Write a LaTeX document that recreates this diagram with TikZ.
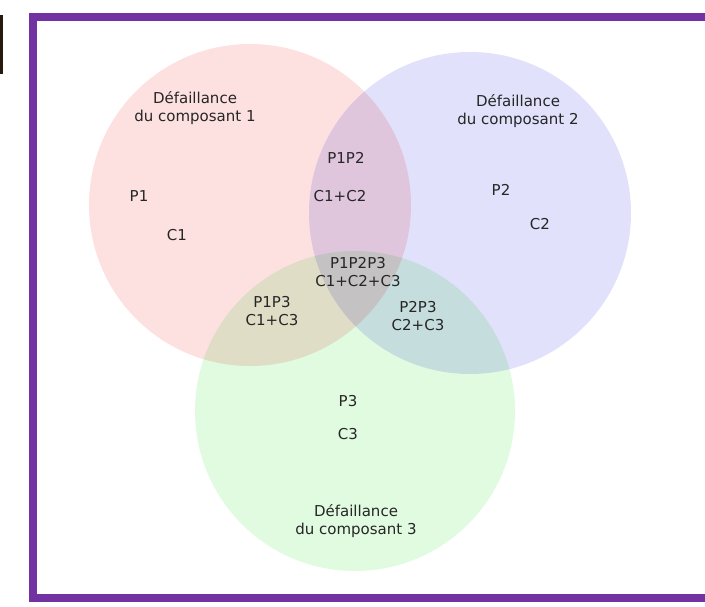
\documentclass[tikz,border=0pt]{standalone}
\usepackage{fontspec}
\setmainfont{DejaVu Sans}
\definecolor{framepurple}{HTML}{7232A2}
\definecolor{cred}{HTML}{FDE1E1}
\definecolor{cblue}{HTML}{E1E1FB}
\definecolor{cgreen}{HTML}{E1FBE1}
\definecolor{txt}{HTML}{262626}
\begin{document}
\begin{tikzpicture}[x=1pt,y=-1pt,
  lbl/.style={text=txt,font=\fontsize{15}{17.5}\selectfont,align=center,inner sep=0pt},
  venn/.style={draw=none}]
\useasboundingbox (0,0) rectangle (705,607);
\begin{scope}
\clip (0,0) rectangle (705,607);
\fill[white] (0,0) rectangle (705,607);
\begin{scope}[transparency group]
\begin{scope}[blend mode=multiply]
\fill[cred] (250,205) circle[radius=161];
\fill[cblue] (470,213) circle[radius=161];
\fill[cgreen] (355,411) circle[radius=160];
\end{scope}
\end{scope}
\draw[framepurple,line width=8] (33,17.5) rectangle (708.6,597.5);
\fill[black!80!brown] (0,15) rectangle (3,74);
\end{scope}
\node[lbl] (d1) at (195,108) {Défaillance\\du composant 1};
\node[lbl] (d2) at (518,111) {Défaillance\\du composant 2};
\node[lbl] (d3) at (356,521) {Défaillance\\du composant 3};
\node[lbl] (p1) at (139,196) {P1};
\node[lbl] (c1) at (177,235) {C1};
\node[lbl] (p12) at (346,158) {P1P2};
\node[lbl] (c12) at (340,196) {C1+C2};
\node[lbl] (p2) at (501,190) {P2};
\node[lbl] (c2) at (540,224) {C2};
\node[lbl] (p123) at (358,272) {P1P2P3\\C1+C2+C3};
\node[lbl] (p13) at (272,311) {P1P3\\C1+C3};
\node[lbl] (p23) at (418,316) {P2P3\\C2+C3};
\node[lbl] (p3) at (348,401) {P3};
\node[lbl] (c3) at (348,434) {C3};
\end{tikzpicture}
\end{document}
